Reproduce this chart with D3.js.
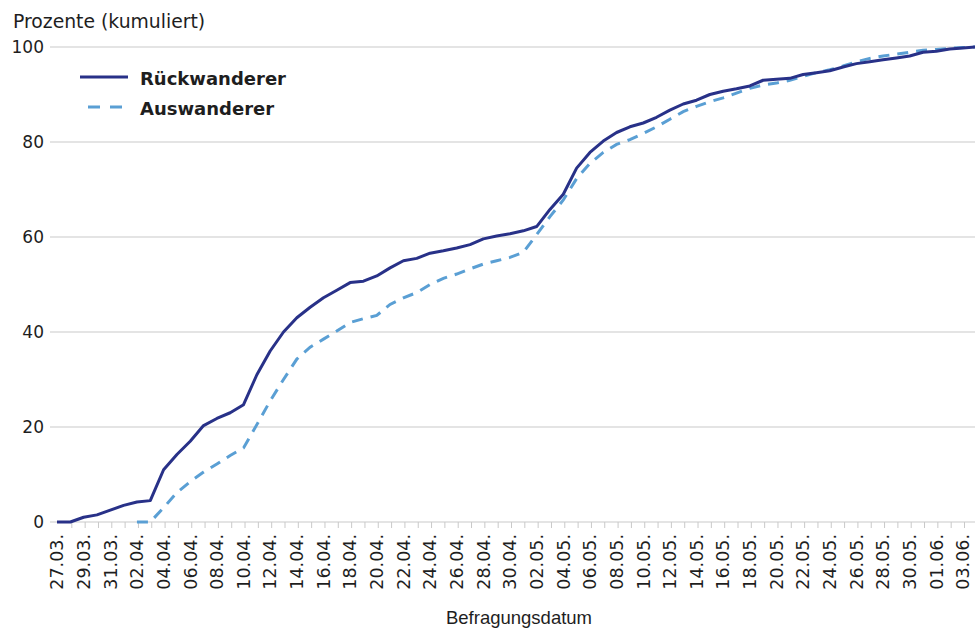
<!DOCTYPE html>
<html>
<head>
<meta charset="utf-8">
<script src="https://cdn.jsdelivr.net/npm/d3@7"></script>
<style>
  html, body { margin: 0; padding: 0; background: #fff; }
  svg { display: block; }
</style>
</head>
<body>
<svg id="chart" width="975" height="628"></svg>
<script>
const dates = [
  "27.03.","28.03.","29.03.","30.03.","31.03.",
  "01.04.","02.04.","03.04.","04.04.","05.04.","06.04.","07.04.","08.04.","09.04.","10.04.",
  "11.04.","12.04.","13.04.","14.04.","15.04.","16.04.","17.04.","18.04.","19.04.","20.04.",
  "21.04.","22.04.","23.04.","24.04.","25.04.","26.04.","27.04.","28.04.","29.04.","30.04.",
  "01.05.","02.05.","03.05.","04.05.","05.05.","06.05.","07.05.","08.05.","09.05.","10.05.",
  "11.05.","12.05.","13.05.","14.05.","15.05.","16.05.","17.05.","18.05.","19.05.","20.05.",
  "21.05.","22.05.","23.05.","24.05.","25.05.","26.05.","27.05.","28.05.","29.05.","30.05.",
  "31.05.","01.06.","02.06.","03.06.","04.06."
];

// Rückwanderer (cumulative %)
const rueckwanderer = [
  0, 0, 1.0, 1.5, 2.5,
  3.5, 4.2, 4.5, 11.0, 14.2, 17.0, 20.3, 21.8, 23.0, 24.7,
  31.0, 36.0, 40.0, 43.0, 45.2, 47.2, 48.8, 50.4, 50.7, 51.8,
  53.5, 55.0, 55.5, 56.6, 57.1, 57.7, 58.4, 59.6, 60.2, 60.7,
  61.3, 62.2, 65.8, 69.0, 74.5, 77.8, 80.2, 82.0, 83.2, 84.0,
  85.2, 86.7, 88.0, 88.8, 90.0, 90.7, 91.2, 91.8, 93.0, 93.2,
  93.4, 94.2, 94.6, 95.0, 95.8, 96.5, 96.9, 97.3, 97.7, 98.1,
  98.9, 99.1, 99.6, 99.8, 100
];

// Auswanderer (cumulative %), no data before 02.04.
const auswanderer = [
  null, null, null, null, null,
  null, 0, 0, 3.0, 6.2, 8.5, 10.5, 12.2, 14.0, 15.6,
  20.5, 25.5, 30.0, 34.3, 36.8, 38.5, 40.2, 42.0, 42.8, 43.5,
  45.8, 47.2, 48.3, 50.0, 51.3, 52.2, 53.3, 54.3, 55.0, 55.7,
  56.8, 60.5, 64.3, 67.8, 72.3, 75.5, 77.8, 79.5, 80.5, 81.8,
  83.2, 84.8, 86.4, 87.5, 88.5, 89.3, 90.3, 91.3, 92.0, 92.4,
  93.0, 93.8, 94.6, 95.2, 96.0, 96.9, 97.6, 98.1, 98.5, 98.9,
  99.3, 99.5, 99.7, 99.9, 100
];

const yTicks = [0, 20, 40, 60, 80, 100];
const seriesNames = ["Rückwanderer", "Auswanderer"];
const yTitle = "Prozente (kumuliert)";
const xTitle = "Befragungsdatum";

const colSolid = "#283188";
const colDash = "#5a9fd4";
const gridCol = "#c9c9c9";
const textCol = "#1e1e1e";

const svg = d3.select("#chart");
const W = 975, H = 628;

const x = d3.scaleLinear().domain([0, 68]).range([57, 963]);
const y = d3.scaleLinear().domain([0, 100]).range([522, 47]);

// gridlines
svg.append("g").selectAll("line").data(yTicks.filter(d => d !== 0)).join("line")
  .attr("x1", 50).attr("x2", W)
  .attr("y1", d => y(d)).attr("y2", d => y(d))
  .attr("stroke", gridCol).attr("stroke-width", 1);

// y axis labels
const yAxis = d3.axisLeft(y).tickValues(yTicks).tickSize(0).tickPadding(0);
const gy = svg.append("g").attr("transform", "translate(44,0)").call(yAxis);
gy.select(".domain").remove();
gy.selectAll("text")
  .attr("font-family", "DejaVu Sans, Verdana, sans-serif")
  .attr("font-size", 17).attr("fill", textCol);

// x axis
const idx = d3.range(dates.length);
const gx = svg.append("g").attr("transform", `translate(0,${y(0)})`);
gx.append("line").attr("x1", 50).attr("x2", W).attr("y1", 0).attr("y2", 0)
  .attr("stroke", gridCol).attr("stroke-width", 1);
gx.selectAll("line.tick").data(idx.filter(i => i > 0)).join("line")
  .attr("class", "tick")
  .attr("x1", i => x(i) + 1.5).attr("x2", i => x(i) + 1.5)
  .attr("y1", 0).attr("y2", 6)
  .attr("stroke", gridCol).attr("stroke-width", 1);
gx.selectAll("text").data(idx.filter(i => i % 2 === 0)).join("text")
  .attr("transform", i => `translate(${x(i)},12) rotate(-90)`)
  .attr("text-anchor", "end")
  .attr("dy", "0.36em")
  .attr("font-family", "DejaVu Sans, Verdana, sans-serif")
  .attr("font-size", 17.5).attr("fill", textCol)
  .text(i => dates[i]);

// titles
svg.append("text").attr("x", 13).attr("y", 28)
  .attr("font-family", "DejaVu Sans, Verdana, sans-serif")
  .attr("font-size", 18.8).attr("fill", textCol).text(yTitle);
svg.append("text").attr("x", 519).attr("y", 624).attr("text-anchor", "middle")
  .attr("font-family", "Liberation Sans, Arial, sans-serif")
  .attr("font-size", 18.5).attr("fill", textCol).text(xTitle);

// lines
const line = d3.line()
  .defined(d => d[1] != null)
  .x(d => x(d[0])).y(d => y(d[1]));

svg.append("path")
  .datum(auswanderer.map((v, i) => [i, v]))
  .attr("d", line)
  .attr("fill", "none").attr("stroke", colDash).attr("stroke-width", 3)
  .attr("stroke-dasharray", "11,8");

svg.append("path")
  .datum(rueckwanderer.map((v, i) => [i, v]))
  .attr("d", line)
  .attr("fill", "none").attr("stroke", colSolid).attr("stroke-width", 3)
  .attr("stroke-linejoin", "round");

// legend
const legend = svg.append("g");
const legItems = [
  { name: seriesNames[0], color: colSolid, dash: null, y: 77 },
  { name: seriesNames[1], color: colDash, dash: "12,10", y: 107 }
];
legItems.forEach(it => {
  legend.append("line").attr("x1", it.dash ? 88 : 80).attr("x2", 128)
    .attr("y1", it.y).attr("y2", it.y)
    .attr("stroke", it.color).attr("stroke-width", 3)
    .attr("stroke-dasharray", it.dash);
  legend.append("text").attr("x", 140).attr("y", it.y + 8)
    .attr("font-family", "DejaVu Sans, Verdana, sans-serif")
    .attr("font-weight", "bold")
    .attr("font-size", 18).attr("fill", textCol).text(it.name);
});
</script>
</body>
</html>
